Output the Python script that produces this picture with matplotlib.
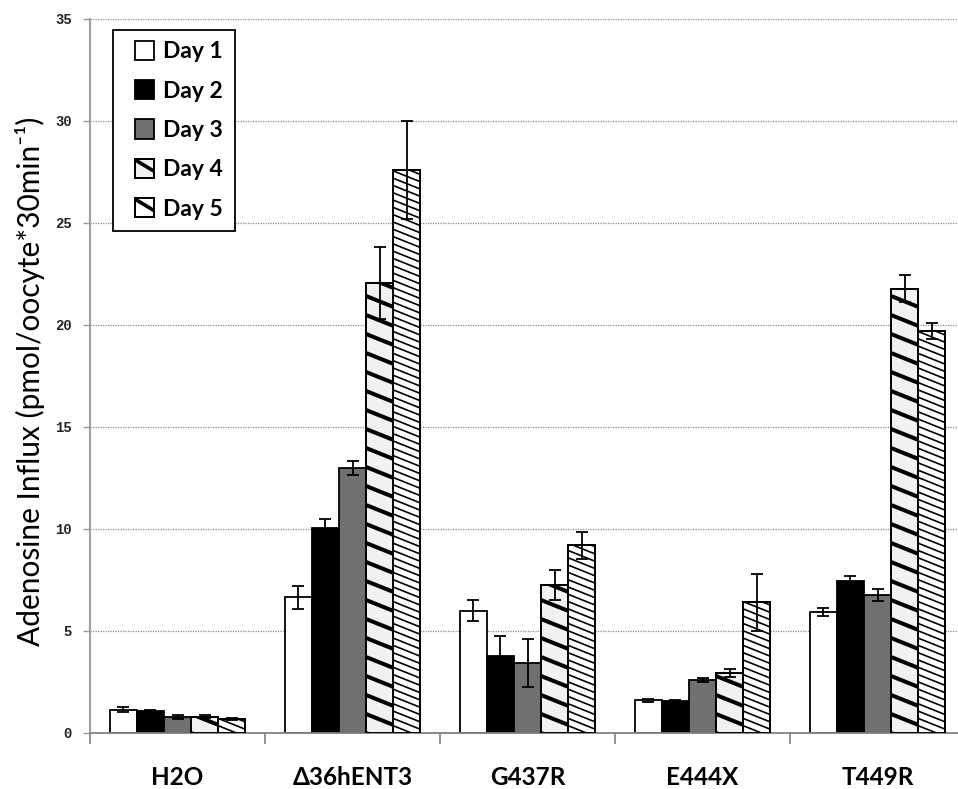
import numpy as np
import matplotlib
matplotlib.use("Agg")
import matplotlib.pyplot as plt
from matplotlib.patches import Rectangle
from matplotlib.lines import Line2D
from matplotlib.collections import LineCollection
from matplotlib.legend_handler import HandlerBase

# ---- data -------------------------------------------------------------
groups = ["H2O", "\u039436hENT3", "G437R", "E444X", "T449R"]
days = ["Day 1", "Day 2", "Day 3", "Day 4", "Day 5"]

day1 = [1.15, 6.65, 6.00, 1.60, 5.93]
day2 = [1.07, 10.05, 3.77, 1.55, 7.45]
day3 = [0.80, 13.00, 3.43, 2.60, 6.77]
day4 = [0.80, 22.05, 7.25, 2.95, 21.78]
day5 = [0.70, 27.60, 9.20, 6.40, 19.70]

err1 = [0.12, 0.55, 0.50, 0.06, 0.20]
err2 = [0.05, 0.45, 1.00, 0.05, 0.25]
err3 = [0.10, 0.35, 1.18, 0.08, 0.30]
err4 = [0.06, 1.75, 0.75, 0.20, 0.65]
err5 = [0.05, 2.40, 0.65, 1.38, 0.40]

y_ticks = [0, 5, 10, 15, 20, 25, 30, 35]
y_label = "Adenosine Influx (pmol/oocyte*30min\u207b\u00b9)"

values = [day1, day2, day3, day4, day5]
errors = [err1, err2, err3, err4, err5]

# ---- styles -----------------------------------------------------------
faces = ["white", "black", "#707070", "#f1f1f1", "white"]
# (line width in pt, vertical spacing in px) for the diagonal stripes
stripes = [None, None, None, (2.9, 19.0), (1.2, 7.3)]
stripe_slope = 0.4

LABEL_FONT = ["Lato", "DejaVu Sans"]

fig = plt.figure(figsize=(9.58, 7.89), dpi=100)
ax = fig.add_axes([90 / 958, 1 - 733 / 789, 875 / 958, 714 / 789])

n = len(groups)
x = np.arange(n)
bw = 0.155

ax.set_xlim(-0.5, n - 0.5)
ax.set_ylim(0, 35)

bar_containers = []
for i in range(5):
    xs = x + (i - 2) * bw
    bc = ax.bar(xs, values[i], width=bw, color=faces[i], edgecolor="black",
                linewidth=1.3, zorder=2)
    bar_containers.append(bc)

# diagonal stripes drawn inside each bar, clipped to the bar outline
fig.canvas.draw()
p0 = ax.transData.transform((0, 0))
p1 = ax.transData.transform((1, 1))
sx = p1[0] - p0[0]   # px per x unit
sy = p1[1] - p0[1]   # px per y unit
for i in range(5):
    if stripes[i] is None:
        continue
    lw, gap = stripes[i]
    for rect in bar_containers[i].patches:
        x0 = rect.get_x()
        w = rect.get_width()
        h = rect.get_height()
        wpx = w * sx
        hpx = h * sy
        segs = []
        c = 0.0
        while c < hpx + wpx * stripe_slope + gap:
            ya = c
            yb = c - wpx * stripe_slope
            segs.append([(x0, ya / sy), (x0 + w, yb / sy)])
            c += gap
        lc = LineCollection(segs, colors="black", linewidths=lw,
                            zorder=2.5, capstyle="butt")
        ax.add_collection(lc)
        lc.set_clip_path(rect)
    # outlines on top of the stripes
    for rect in bar_containers[i].patches:
        ax.add_patch(Rectangle((rect.get_x(), 0), rect.get_width(),
                               rect.get_height(), fill=False,
                               edgecolor="black", linewidth=1.3, zorder=2.6))

for i in range(5):
    xs = x + (i - 2) * bw
    ax.errorbar(xs, values[i], yerr=errors[i], fmt="none", ecolor="black",
                elinewidth=1.3, capsize=4.5, capthick=1.3, zorder=3)

# ---- axes styling -------------------------------------------------------
ax.set_yticks(y_ticks)
ax.set_yticklabels([str(t) for t in y_ticks], family="Liberation Mono",
                   fontweight="bold", fontsize=10, color="#222222")
ax.yaxis.grid(True, linestyle=(0, (1, 1)), color="#8c8c8c", linewidth=0.9,
              zorder=0)
ax.set_axisbelow(True)
ax.tick_params(axis="y", length=5, color="#999999", width=1, pad=8)

ax.set_xticks(np.arange(-0.5, n, 1.0))
ax.set_xticklabels([])
ax.tick_params(axis="x", length=8, color="#808080", width=1.2, direction="out")
for gx, name in zip(x, groups):
    ax.text(gx, -2.2, name, ha="center", va="center", fontsize=17.5,
            fontweight="bold", family=LABEL_FONT, transform=ax.transData,
            clip_on=False)

for side in ["top", "right"]:
    ax.spines[side].set_visible(False)
ax.spines["left"].set_color("#a0a0a0")
ax.spines["left"].set_linewidth(1.5)
ax.spines["bottom"].set_color("#808080")
ax.spines["bottom"].set_linewidth(1.3)

fig.text(30 / 958, 1 - 381 / 789, y_label, rotation=90, ha="center",
         va="center", fontsize=21.5, family=LABEL_FONT)


# ---- legend -------------------------------------------------------------
class SquareHandler(HandlerBase):
    def __init__(self, face, striped):
        super().__init__()
        self.face = face
        self.striped = striped

    def create_artists(self, legend, orig_handle, xdescent, ydescent,
                       width, height, fontsize, trans):
        s = 14
        x0 = -xdescent + width - s
        y0 = -ydescent + (height - s) / 2
        r = Rectangle((x0, y0), s, s, facecolor=self.face, edgecolor="black",
                      linewidth=1.3, transform=trans)
        arts = [r]
        if self.striped:
            ln = Line2D([x0, x0 + s], [y0 + s * 0.95, y0 + s * 0.35],
                        color="black", linewidth=2.6, transform=trans,
                        solid_capstyle="butt")
            ln.set_clip_path(r)
            arts.append(ln)
            r2 = Rectangle((x0, y0), s, s, fill=False, edgecolor="black",
                           linewidth=1.3, transform=trans)
            arts.append(r2)
        return arts


handles = [Rectangle((0, 0), 1, 1, label=d) for d in days]
hmap = {h: SquareHandler(faces[i], stripes[i] is not None)
        for i, h in enumerate(handles)}
leg = ax.legend(handles=handles, labels=days, handler_map=hmap,
                loc="upper left", bbox_to_anchor=(113 / 958, 1 - 30 / 789),
                bbox_transform=fig.transFigure,
                prop={"family": LABEL_FONT, "weight": "bold", "size": 16.5},
                handlelength=1.3, handleheight=0.7, handletextpad=0.4,
                labelspacing=0.8, borderpad=0.5, borderaxespad=0,
                fancybox=False, framealpha=1, edgecolor="black")
leg.get_frame().set_linewidth(1.3)

fig.savefig("out.png", dpi=100)
